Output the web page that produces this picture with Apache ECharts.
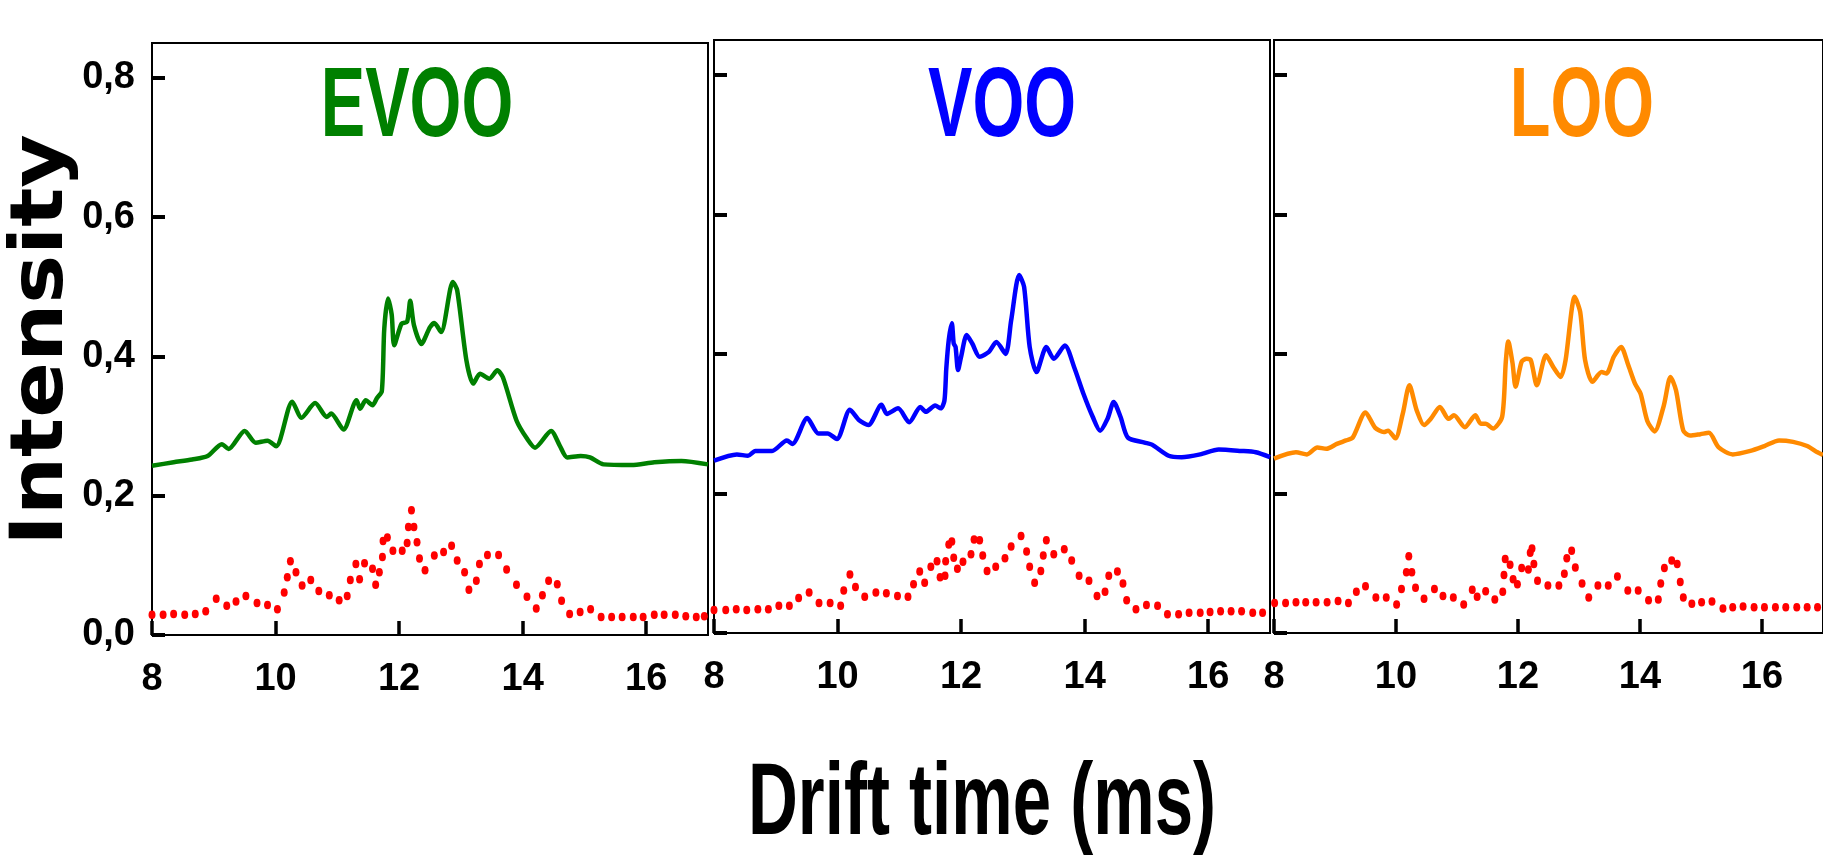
<!DOCTYPE html>
<html>
<head>
<meta charset="utf-8">
<title>Drift time spectra</title>
<script src="https://cdn.jsdelivr.net/npm/echarts@6/dist/echarts.min.js"></script>
<style>
    html, body { margin: 0; padding: 0; background: #fff; }
    #chart { width: 1823px; height: 855px; }
</style>
</head>
<body>
<div id="chart"></div>
<script>
// panel names + colours
const panelNames = ['EVOO', 'VOO', 'LOO']
const panelColors = ['#008000', '#0000ff', '#ff8a00']
const xTicks = [8, 10, 12, 14, 16]
const yTicks = [0, 0.2, 0.4, 0.6, 0.8]

// drift time (ms), intensity
const evooLine = [
    [8.00, 0.243], [8.35, 0.248], [8.65, 0.252], [8.90, 0.257], [9.13, 0.274], [9.24, 0.267],
    [9.50, 0.293], [9.68, 0.276], [9.87, 0.279], [10.01, 0.271], [10.27, 0.335], [10.42, 0.312],
    [10.64, 0.333], [10.83, 0.313], [10.90, 0.318], [11.10, 0.295], [11.31, 0.337], [11.37, 0.325],
    [11.46, 0.337], [11.57, 0.330], [11.64, 0.340], [11.72, 0.350], [11.76, 0.440], [11.82, 0.483],
    [11.88, 0.460], [11.92, 0.416], [12.04, 0.447], [12.13, 0.450], [12.18, 0.480], [12.24, 0.445],
    [12.36, 0.418], [12.50, 0.442], [12.57, 0.448], [12.68, 0.435], [12.87, 0.507], [12.94, 0.495],
    [13.09, 0.394], [13.20, 0.361], [13.31, 0.375], [13.46, 0.368], [13.59, 0.380], [13.68, 0.370],
    [13.90, 0.308], [14.07, 0.282], [14.20, 0.269], [14.46, 0.293], [14.60, 0.272], [14.72, 0.255],
    [14.94, 0.257], [15.09, 0.255], [15.31, 0.245], [15.76, 0.244], [16.13, 0.248], [16.57, 0.250],
    [17.00, 0.245],
]
const vooLine = [
    [8.00, 0.247], [8.37, 0.256], [8.55, 0.254], [8.67, 0.261], [8.94, 0.261], [9.18, 0.276],
    [9.27, 0.271], [9.51, 0.308], [9.69, 0.286], [9.84, 0.286], [9.99, 0.278], [10.20, 0.320],
    [10.35, 0.305], [10.50, 0.298], [10.71, 0.327], [10.80, 0.314], [10.98, 0.322], [11.16, 0.302],
    [11.34, 0.324], [11.43, 0.317], [11.58, 0.326], [11.67, 0.322], [11.73, 0.333], [11.76, 0.379],
    [11.80, 0.420], [11.85, 0.444], [11.88, 0.415], [11.91, 0.410], [11.95, 0.377], [12.00, 0.396],
    [12.09, 0.427], [12.18, 0.415], [12.30, 0.396], [12.45, 0.403], [12.57, 0.417], [12.72, 0.400],
    [12.81, 0.448], [12.94, 0.513], [13.02, 0.496], [13.11, 0.410], [13.22, 0.374], [13.38, 0.410],
    [13.50, 0.393], [13.68, 0.412], [13.83, 0.381], [13.98, 0.343], [14.13, 0.310], [14.25, 0.290],
    [14.37, 0.307], [14.47, 0.331], [14.58, 0.310], [14.70, 0.280], [14.97, 0.273], [15.09, 0.270],
    [15.36, 0.254], [15.57, 0.252], [15.87, 0.256], [16.17, 0.263], [16.53, 0.261], [16.77, 0.259],
    [17.00, 0.252],
]
const looLine = [
    [8.00, 0.250], [8.36, 0.259], [8.54, 0.256], [8.71, 0.266], [8.86, 0.264], [9.03, 0.271],
    [9.18, 0.276], [9.29, 0.280], [9.50, 0.316], [9.66, 0.294], [9.80, 0.288], [9.87, 0.290],
    [9.99, 0.279], [10.11, 0.314], [10.22, 0.355], [10.34, 0.319], [10.46, 0.298], [10.57, 0.307],
    [10.72, 0.324], [10.86, 0.307], [10.95, 0.312], [11.13, 0.295], [11.30, 0.312], [11.39, 0.300],
    [11.47, 0.300], [11.59, 0.293], [11.74, 0.310], [11.80, 0.389], [11.84, 0.418], [11.91, 0.387],
    [11.96, 0.353], [12.06, 0.389], [12.14, 0.393], [12.21, 0.391], [12.31, 0.355], [12.46, 0.398],
    [12.58, 0.381], [12.70, 0.367], [12.78, 0.391], [12.93, 0.482], [13.02, 0.460], [13.10, 0.391],
    [13.22, 0.360], [13.37, 0.374], [13.45, 0.372], [13.57, 0.396], [13.69, 0.410], [13.80, 0.386],
    [13.92, 0.357], [14.01, 0.343], [14.12, 0.304], [14.24, 0.289], [14.39, 0.326], [14.50, 0.367],
    [14.59, 0.348], [14.71, 0.290], [14.82, 0.283], [14.99, 0.285], [15.13, 0.287], [15.29, 0.266],
    [15.52, 0.256], [15.81, 0.261], [16.04, 0.268], [16.28, 0.276], [16.51, 0.274], [16.74, 0.268],
    [16.91, 0.259], [17.00, 0.255],
]

// red dotted traces
const evooDots = [
    [8.00, 0.029], [8.18, 0.029], [8.35, 0.030], [8.53, 0.029], [8.70, 0.030], [8.87, 0.034],
    [9.04, 0.052], [9.21, 0.042], [9.36, 0.048], [9.52, 0.056], [9.70, 0.046], [9.87, 0.043],
    [10.03, 0.037], [10.14, 0.061], [10.19, 0.083], [10.24, 0.106], [10.33, 0.090], [10.43, 0.071],
    [10.57, 0.079], [10.70, 0.063], [10.87, 0.057], [11.03, 0.050], [11.16, 0.056], [11.21, 0.079],
    [11.30, 0.102], [11.36, 0.080], [11.44, 0.103], [11.57, 0.095], [11.62, 0.072], [11.68, 0.090],
    [11.73, 0.112], [11.74, 0.135], [11.81, 0.140], [11.90, 0.121], [12.05, 0.121], [12.13, 0.132],
    [12.15, 0.155], [12.20, 0.179], [12.24, 0.155], [12.29, 0.133], [12.33, 0.110], [12.42, 0.093],
    [12.57, 0.114], [12.72, 0.119], [12.85, 0.128], [12.94, 0.107], [13.06, 0.090], [13.13, 0.065],
    [13.25, 0.078], [13.30, 0.102], [13.43, 0.115], [13.61, 0.115], [13.74, 0.094], [13.90, 0.072],
    [14.07, 0.055], [14.22, 0.038], [14.32, 0.057], [14.42, 0.078], [14.56, 0.073], [14.63, 0.049],
    [14.76, 0.030], [14.93, 0.033], [15.10, 0.037], [15.27, 0.026], [15.44, 0.026], [15.61, 0.026],
    [15.79, 0.026], [15.95, 0.026], [16.13, 0.029], [16.29, 0.029], [16.47, 0.029], [16.64, 0.027],
    [16.81, 0.026], [16.94, 0.027],
]
const vooDots = [
    [8.00, 0.033], [8.19, 0.033], [8.36, 0.034], [8.53, 0.033], [8.71, 0.034], [8.88, 0.034],
    [9.05, 0.039], [9.22, 0.039], [9.37, 0.050], [9.54, 0.058], [9.70, 0.043], [9.88, 0.043],
    [10.05, 0.039], [10.10, 0.061], [10.20, 0.084], [10.29, 0.066], [10.44, 0.052], [10.62, 0.058],
    [10.79, 0.057], [10.97, 0.053], [11.14, 0.052], [11.23, 0.070], [11.33, 0.088], [11.41, 0.072],
    [11.51, 0.095], [11.61, 0.103], [11.66, 0.080], [11.74, 0.082], [11.75, 0.103], [11.80, 0.127],
    [11.85, 0.131], [11.88, 0.108], [11.94, 0.092], [12.03, 0.102], [12.16, 0.113], [12.21, 0.134],
    [12.30, 0.133], [12.35, 0.111], [12.42, 0.089], [12.56, 0.095], [12.71, 0.107], [12.81, 0.124],
    [12.97, 0.139], [13.06, 0.117], [13.11, 0.095], [13.19, 0.072], [13.29, 0.089], [13.33, 0.111],
    [13.38, 0.133], [13.50, 0.113], [13.67, 0.120], [13.79, 0.104], [13.91, 0.082], [14.07, 0.075],
    [14.20, 0.053], [14.33, 0.059], [14.39, 0.082], [14.53, 0.088], [14.62, 0.071], [14.68, 0.047],
    [14.83, 0.034], [15.00, 0.040], [15.18, 0.039], [15.34, 0.027], [15.52, 0.027], [15.69, 0.029],
    [15.87, 0.029], [16.03, 0.030], [16.20, 0.031], [16.37, 0.031], [16.54, 0.031], [16.72, 0.029],
    [16.88, 0.029],
]
const looDots = [
    [8.01, 0.043], [8.19, 0.043], [8.36, 0.044], [8.52, 0.044], [8.69, 0.044], [8.87, 0.044],
    [9.05, 0.046], [9.22, 0.043], [9.35, 0.059], [9.50, 0.067], [9.67, 0.051], [9.84, 0.051],
    [10.01, 0.041], [10.09, 0.063], [10.17, 0.087], [10.21, 0.110], [10.26, 0.087], [10.32, 0.065],
    [10.46, 0.049], [10.63, 0.063], [10.77, 0.053], [10.94, 0.051], [11.11, 0.041], [11.25, 0.062],
    [11.33, 0.052], [11.47, 0.060], [11.62, 0.048], [11.75, 0.059], [11.77, 0.083], [11.79, 0.106],
    [11.87, 0.098], [11.92, 0.077], [11.99, 0.070], [12.06, 0.093], [12.17, 0.091], [12.20, 0.115],
    [12.23, 0.121], [12.26, 0.099], [12.32, 0.075], [12.49, 0.068], [12.67, 0.068], [12.76, 0.085],
    [12.80, 0.107], [12.88, 0.118], [12.94, 0.094], [13.05, 0.071], [13.16, 0.051], [13.31, 0.068],
    [13.48, 0.068], [13.63, 0.081], [13.80, 0.061], [13.97, 0.061], [14.14, 0.047], [14.30, 0.048],
    [14.34, 0.071], [14.40, 0.093], [14.52, 0.104], [14.61, 0.099], [14.66, 0.073], [14.71, 0.051],
    [14.85, 0.042], [15.01, 0.044], [15.18, 0.045], [15.36, 0.035], [15.52, 0.037], [15.69, 0.038],
    [15.87, 0.037], [16.04, 0.037], [16.22, 0.037], [16.39, 0.037], [16.57, 0.037], [16.74, 0.037],
    [16.91, 0.037],
]

const lineData = [evooLine, vooLine, looLine]
const dotData = [evooDots, vooDots, looDots]

// panel boxes in px (3rd one runs off the right edge like the original)
const boxes = [
    { left: 152, top: 43, width: 556, height: 592 },
    { left: 714, top: 40, width: 556, height: 593 },
    { left: 1274, top: 40, width: 556, height: 593 },
]
const titleX = [417, 1002, 1582]

const labelFont = "'Liberation Sans', Arial, sans-serif"

const chart = echarts.init(document.getElementById('chart'))

const grid = boxes.map(b => ({
    left: b.left,
    top: b.top,
    width: b.width,
    height: b.height,
    show: true,
    borderColor: '#000',
    borderWidth: 2,
    backgroundColor: 'transparent',
}))

const xAxis = boxes.map((b, i) => ({
    type: 'value',
    gridIndex: i,
    min: 8,
    max: 17,
    interval: 2,
    axisLine: { show: true, lineStyle: { color: '#000', width: 2 } },
    axisTick: { show: true, inside: true, length: 14, customValues: xTicks, lineStyle: { color: '#000', width: 3.5 } },
    axisLabel: {
        customValues: xTicks,
        margin: 26,
        color: '#000',
        fontFamily: labelFont,
        fontWeight: 'bold',
        fontSize: 38,
    },
    splitLine: { show: false },
}))

const yAxis = boxes.map((b, i) => ({
    type: 'value',
    gridIndex: i,
    min: 0,
    max: 0.85,
    interval: 0.2,
    axisLine: { show: true, lineStyle: { color: '#000', width: 2 } },
    axisTick: { show: true, inside: true, length: 13, customValues: yTicks, lineStyle: { color: '#000', width: 4 } },
    axisLabel: {
        show: i === 0,
        customValues: yTicks,
        margin: 17,
        color: '#000',
        fontFamily: labelFont,
        fontWeight: 'bold',
        fontSize: 38,
        formatter: v => v.toFixed(1).replace('.', ','),
    },
    splitLine: { show: false },
}))

const series = []
panelNames.forEach((name, i) => {
    series.push({
        name: name,
        type: 'line',
        xAxisIndex: i,
        yAxisIndex: i,
        data: lineData[i],
        smooth: 0.25,
        showSymbol: false,
        lineStyle: { color: panelColors[i], width: 4.5 },
        itemStyle: { color: panelColors[i] },
        z: 3,
    })
    series.push({
        name: name + ' dots',
        type: 'scatter',
        xAxisIndex: i,
        yAxisIndex: i,
        data: dotData[i],
        symbol: 'circle',
        symbolSize: [7, 8.5],
        itemStyle: { color: '#ff0000', opacity: 1 },
        z: 4,
    })
})

// titles and axis names as text
const graphic = panelNames.map((name, i) => ({
    type: 'text',
    x: titleX[i],
    y: 109,
    scaleX: 0.68,
    style: {
        text: name,
        fill: panelColors[i],
        font: "bold 98px 'Liberation Sans', Arial, sans-serif",
        align: 'center',
        verticalAlign: 'middle',
    },
}))
graphic.push({
    type: 'text',
    x: 43,
    y: 340,
    rotation: Math.PI / 2,
    scaleY: 0.88,
    style: {
        text: 'Intensity',
        fill: '#000',
        font: "bold 82px 'DejaVu Sans', sans-serif",
        align: 'center',
        verticalAlign: 'middle',
    },
})
graphic.push({
    type: 'text',
    x: 982,
    y: 806,
    scaleX: 0.677,
    style: {
        text: 'Drift time (ms)',
        fill: '#000',
        font: "bold 102px 'Liberation Sans', Arial, sans-serif",
        align: 'center',
        verticalAlign: 'middle',
    },
})

const option = {
    animation: false,
    backgroundColor: '#fff',
    grid: grid,
    xAxis: xAxis,
    yAxis: yAxis,
    series: series,
    graphic: graphic,
}
chart.setOption(option)
</script>
</body>
</html>
